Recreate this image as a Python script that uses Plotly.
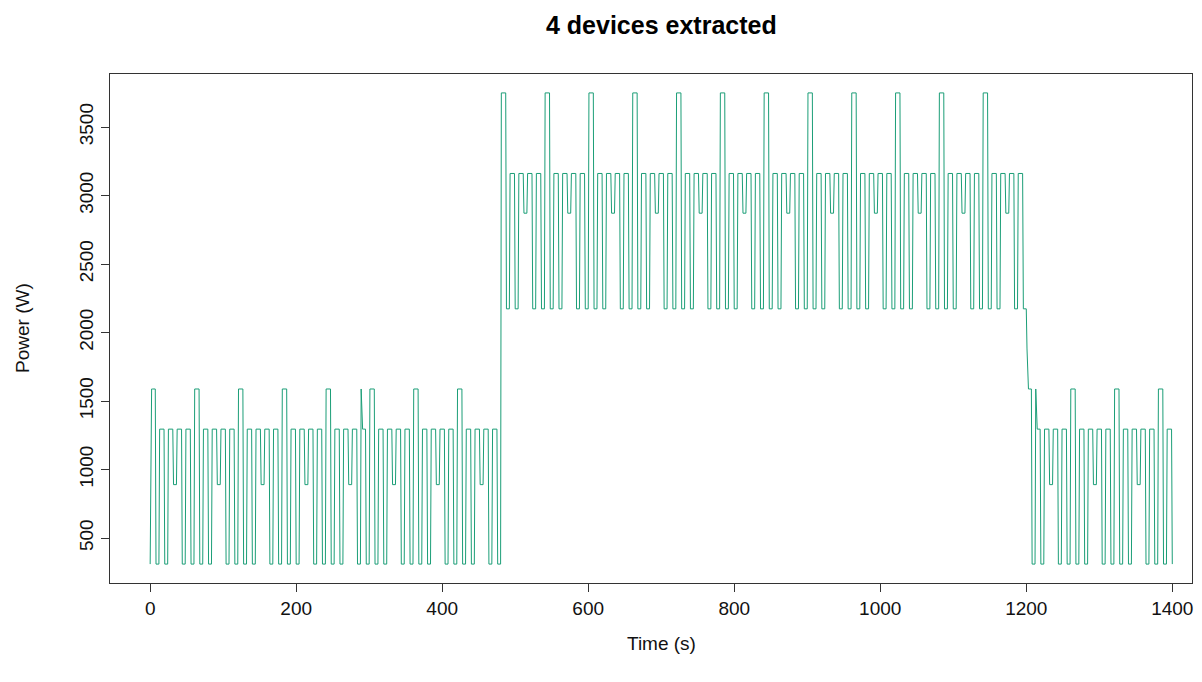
import plotly.graph_objects as go

# ---------------- data ----------------
# start time (s) of every on-pulse of the aggregated signal
pulse_start = [
    1, 13, 25, 37, 49, 61, 73, 85, 97, 109,
    121, 133, 145, 157, 169, 181, 193, 205, 217, 229,
    241, 253, 265, 277, 289, 301, 313, 325, 337, 349,
    361, 373, 385, 397, 409, 421, 433, 445, 457, 469,
    481, 493, 505, 517, 529, 541, 553, 565, 577, 589,
    601, 613, 625, 637, 649, 661, 673, 685, 697, 709,
    721, 733, 745, 757, 769, 781, 793, 805, 817, 829,
    841, 853, 865, 877, 889, 901, 913, 925, 937, 949,
    961, 973, 985, 997, 1009, 1021, 1033, 1045, 1057, 1069,
    1081, 1093, 1105, 1117, 1129, 1141, 1153, 1165, 1177, 1189,
    1201, 1213, 1225, 1237, 1249, 1261, 1273, 1285, 1297, 1309,
    1321, 1333, 1345, 1357, 1369, 1381, 1393,
]

# power (W) while each pulse is on
pulse_level = [
    1588, 1295, 1295, 1295, 1295, 1588, 1295, 1295, 1295, 1295,
    1588, 1295, 1295, 1295, 1295, 1588, 1295, 1295, 1295, 1295,
    1588, 1295, 1295, 1295, 1295, 1588, 1295, 1295, 1295, 1295,
    1588, 1295, 1295, 1295, 1295, 1588, 1295, 1295, 1295, 1295,
    3749, 3161, 3161, 3161, 3161, 3749, 3161, 3161, 3161, 3161,
    3749, 3161, 3161, 3161, 3161, 3749, 3161, 3161, 3161, 3161,
    3749, 3161, 3161, 3161, 3161, 3749, 3161, 3161, 3161, 3161,
    3749, 3161, 3161, 3161, 3161, 3749, 3161, 3161, 3161, 3161,
    3749, 3161, 3161, 3161, 3161, 3749, 3161, 3161, 3161, 3161,
    3749, 3161, 3161, 3161, 3161, 3749, 3161, 3161, 3161, 3161,
    1588, 1295, 1295, 1295, 1295, 1588, 1295, 1295, 1295, 1295,
    1588, 1295, 1295, 1295, 1295, 1588, 1295,
]

# power (W) in the off-gap that follows each pulse
gap_level = [
    310, 310, 890, 310, 310, 310, 310, 890, 310, 310,
    310, 310, 890, 310, 310, 310, 310, 890, 310, 310,
    310, 310, 890, 310, 310, 310, 310, 890, 310, 310,
    310, 310, 890, 310, 310, 310, 310, 890, 310, 310,
    2173, 2173, 2871, 2173, 2173, 2173, 2173, 2871, 2173, 2173,
    2173, 2173, 2871, 2173, 2173, 2173, 2173, 2871, 2173, 2173,
    2173, 2173, 2871, 2173, 2173, 2173, 2173, 2871, 2173, 2173,
    2173, 2173, 2871, 2173, 2173, 2173, 2173, 2871, 2173, 2173,
    2173, 2173, 2871, 2173, 2173, 2173, 2173, 2871, 2173, 2173,
    2173, 2173, 2871, 2173, 2173, 2173, 2173, 2871, 2173, 2173,
    310, 310, 890, 310, 310, 310, 310, 890, 310, 310,
    310, 310, 890, 310, 310, 310, 310,
]

start_level = 310          # value at t = 0
pulse_on_seconds = 7       # on-duration of each pulse
end_time = 1400

# isolated single-sample values
special_times = [289, 1201, 1213]
special_levels = [1588, 1880, 1588]

x_ticks = [0, 200, 400, 600, 800, 1000, 1200, 1400]
y_ticks = [500, 1000, 1500, 2000, 2500, 3000, 3500]

title_text = "4 devices extracted"
x_label = "Time (s)"
y_label = "Power (W)"

# ---------------- build the 1 Hz series ----------------
assert len(pulse_start) == len(pulse_level) == len(gap_level)
times = list(range(0, end_time + 1))
power = [start_level] * len(times)
for i, s in enumerate(pulse_start):
    nxt = pulse_start[i + 1] if i + 1 < len(pulse_start) else end_time + 1
    for t in range(s, min(s + pulse_on_seconds, nxt)):
        power[t] = pulse_level[i]
    for t in range(s + pulse_on_seconds, nxt):
        power[t] = gap_level[i]
for t, v in zip(special_times, special_levels):
    power[t] = v

# ---------------- figure ----------------
FONT = "Liberation Sans, Arial, Helvetica, sans-serif"
AX = "#333333"

fig = go.Figure(
    go.Scatter(
        x=times, y=power, mode="lines",
        line=dict(color="#1B9E77", width=1),
        hoverinfo="skip", showlegend=False,
    )
)

# page pixel -> paper helpers (plot area spans x 110..1192, y 74..583 on the page)
def px(xp):
    return (xp - 110) / 1082.0

def py(yp):
    return (583 - yp) / 509.0

fig.update_layout(
    width=1186, height=666,
    margin=dict(l=102, r=2, t=66, b=91),
    plot_bgcolor="white", paper_bgcolor="white",
    font=dict(family=FONT, size=19, color="black"),
    xaxis=dict(
        range=[-55, 1427], tickmode="array", tickvals=x_ticks,
        ticktext=[str(v) for v in x_ticks],
        ticks="outside", ticklen=8, tickwidth=1, tickcolor=AX,
        showline=True, linecolor=AX, linewidth=1, mirror=True,
        showgrid=False, zeroline=False,
        tickfont=dict(family=FONT, size=19, color="#111"),
    ),
    yaxis=dict(
        range=[172, 3887], tickmode="array", tickvals=y_ticks,
        ticktext=[str(v) for v in y_ticks], tickangle=-90,
        ticks="outside", ticklen=8, tickwidth=1, tickcolor=AX,
        showline=True, linecolor=AX, linewidth=1, mirror=True,
        showgrid=False, zeroline=False,
        tickfont=dict(family=FONT, size=19, color="#111"),
    ),
    annotations=[
        dict(text="<b>" + title_text + "</b>", xref="paper", yref="paper",
             x=px(661), y=py(25), showarrow=False,
             font=dict(family=FONT, size=25, color="black"),
             xanchor="center", yanchor="middle"),
        dict(text=x_label, xref="paper", yref="paper",
             x=px(661), y=py(643), showarrow=False,
             font=dict(family=FONT, size=19, color="#111"),
             xanchor="center", yanchor="middle"),
        dict(text=y_label, xref="paper", yref="paper",
             x=px(22), y=py(328), showarrow=False, textangle=-90,
             font=dict(family=FONT, size=19, color="#111"),
             xanchor="center", yanchor="middle"),
    ],
)

fig.write_html("out.html")
